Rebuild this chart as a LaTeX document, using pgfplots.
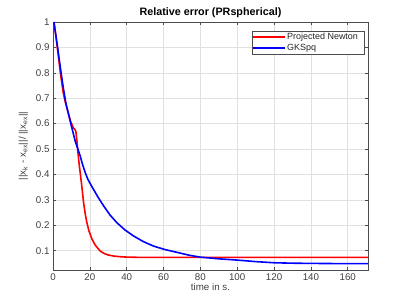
\documentclass[border=0pt]{standalone}
\usepackage{pgfplots}
\pgfplotsset{compat=1.18}
\usepackage{fontspec}
\setmainfont{Liberation Sans}
\definecolor{axcol}{gray}{0.3}
\definecolor{gridcol}{gray}{0.88}
\begin{document}
\begin{tikzpicture}
\begin{axis}[
  scale only axis,
  width=315bp, height=248bp,
  xmin=0, xmax=171, ymin=0.024, ymax=1,
  xtick={0,20,...,160},
  ytick={0.1,0.2,0.3,0.4,0.5,0.6,0.7,0.8,0.9,1},
  yticklabels={0.1,0.2,0.3,0.4,0.5,0.6,0.7,0.8,0.9,1},
  /pgf/number format/assume math mode=true,
  tick label style={font=\fontsize{9.8}{11}\selectfont, text=black!75},
  grid=major,
  major grid style={gridcol, line width=0.5pt},
  axis line style={axcol, line width=0.6pt},
  tick style={axcol, line width=0.5pt},
  tick align=inside,
  major tick length=3bp,
  title={\textbf{Relative error (PRspherical)}},
  title style={font=\fontsize{10.8}{12}\selectfont, yshift=-5bp},
  xlabel={time in s.},
  xlabel style={font=\fontsize{9.8}{11}\selectfont, text=black!75, yshift=4bp},
  ylabel={||x\textsubscript{k} - x\textsubscript{ex}||/ ||x\textsubscript{ex}||},
  ylabel style={font=\fontsize{9.8}{11}\selectfont, text=black!75, yshift=1bp},
]
\addplot[red, line width=1.6pt] coordinates {
(0.5,1) (1,0.975) (2,0.92) (3,0.86) (4,0.80) (5,0.75) (5.6,0.72) (6.5,0.69)
(8,0.65) (9.5,0.61) (11,0.584) (11.8,0.578) (12.4,0.57) (13,0.53) (13.5,0.49)
(14.2,0.44) (15.2,0.381) (16,0.33) (16.6,0.289) (17.5,0.245) (18.4,0.21)
(19.5,0.178) (21.2,0.145) (23,0.121) (25.7,0.098) (28,0.088) (30,0.083)
(32.9,0.079) (36,0.0765) (40,0.0748) (45,0.074) (55,0.0737) (80,0.0736)
(120,0.0736) (171,0.0736)
};
\addplot[blue, line width=1.6pt] coordinates {
(0.5,1) (1.5,0.95) (2.5,0.9) (4,0.82) (5.4,0.75) (7,0.68) (8.5,0.635)
(10,0.59) (12.1,0.53) (13.5,0.5) (14.8,0.472) (16,0.44) (17.5,0.407)
(19,0.38) (20.5,0.36) (22,0.341) (24.5,0.31) (27.5,0.276) (31,0.24)
(34.7,0.21) (39,0.182) (43.7,0.158) (49,0.136) (54.6,0.118) (61,0.104)
(68.2,0.092) (74,0.082) (80,0.0745) (90,0.068) (100,0.063) (110,0.057)
(120,0.0525) (130,0.0508) (140,0.050) (155,0.0492) (171,0.0488)
};
\end{axis}
% legend box
\draw[axcol, fill=white, line width=0.5pt] ([shift={(199bp,216bp)}]current axis.south west) rectangle ([shift={(311bp,239bp)}]current axis.south west);
\draw[red, line width=1.8pt] ([shift={(200bp,233bp)}]current axis.south west) -- ([shift={(232bp,233bp)}]current axis.south west);
\draw[blue, line width=1.8pt] ([shift={(200bp,222bp)}]current axis.south west) -- ([shift={(232bp,222bp)}]current axis.south west);
\node[anchor=west, inner sep=0pt, font=\fontsize{9}{10}\selectfont, text=black!85] at ([shift={(234bp,233bp)}]current axis.south west) {Projected Newton};
\node[anchor=west, inner sep=0pt, font=\fontsize{9}{10}\selectfont, text=black!85] at ([shift={(234bp,222bp)}]current axis.south west) {GKSpq};
\pgfresetboundingbox
\path[use as bounding box] ([shift={(-53bp,-34bp)}]current axis.south west) rectangle ([shift={(39bp,22bp)}]current axis.north east);
\end{tikzpicture}
\end{document}
